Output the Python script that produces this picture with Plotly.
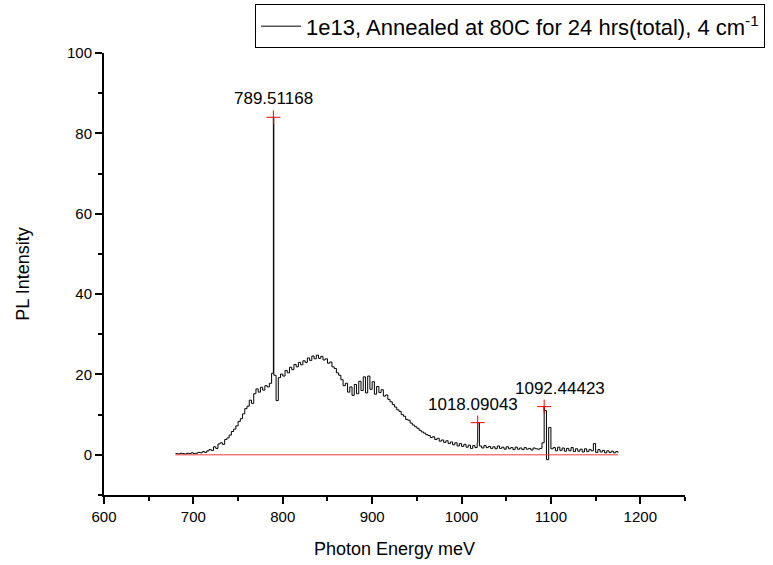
import numpy as np
import plotly.graph_objects as go

e_start, e_step = 680.0, 2.5
intensity = [
    0.3, 0.2, 0.4, 0.3, 0.2, 0.4, 0.3, 0.5, 0.3, 0.4,      # 680-702.5
    0.6, 0.5, 0.8, 0.6, 1.0, 1.3, 1.1, 2.0, 1.6, 2.7,      # 705-727.5
    3.0, 2.6, 3.8, 4.2, 4.9, 5.8, 6.4, 7.2, 8.3, 9.0,      # 730-752.5
    10.2, 11.5, 12.1, 13.6, 12.8, 15.2, 16.4, 15.6, 16.8, 16.1,  # 755-777.5
    17.2, 16.9, 17.8, 20.3, 19.8, 13.5, 19.2, 20.1, 19.6, 21.0,  # 780-802.5
    20.4, 21.8, 21.2, 22.5, 21.9, 23.0, 22.4, 23.4, 23.0, 24.1,  # 805-827.5
    23.5, 24.6, 23.9, 24.8, 24.0, 24.5, 23.6, 23.9, 22.8, 23.1,  # 830-852.5
    21.9, 21.5, 20.4, 19.8, 18.7, 17.2, 17.8, 15.6, 16.9, 14.8,  # 855-877.5
    17.5, 15.2, 18.3, 16.0, 19.4, 15.4, 19.6, 16.3, 18.2, 15.1,  # 880-902.5
    17.0, 15.5, 16.2, 14.6, 14.9, 13.8, 13.2, 12.5, 11.9, 11.2,  # 905-927.5
    10.8, 10.0, 9.6, 8.8, 8.6, 7.9, 7.4, 7.0, 6.6, 6.1,          # 930-952.5
    5.7, 5.4, 5.0, 4.8, 4.3, 4.5, 3.8, 4.1, 3.4, 3.7,            # 955-977.5
    3.1, 3.5, 2.8, 3.2, 2.5, 3.0, 2.2, 2.8, 2.1, 2.6,            # 980-1002.5
    1.9, 2.4, 1.6, 2.3, 1.8, 3.0, 2.2, 1.7, 2.3, 1.8,            # 1005-1027.5
    2.1, 1.6, 2.0, 1.5, 2.2, 1.6, 1.9, 1.4, 2.0, 1.5,            # 1030-1052.5
    1.8, 1.3, 1.9, 1.4, 1.7, 1.3, 1.8, 1.4, 1.6, 1.2,            # 1055-1077.5
    1.7, 1.5, 1.4, 1.6, 3.0, 11.0, -1.2, 6.8, 1.5, 1.8,          # 1080-1102.5
    1.0, 1.9, 1.1, 1.7, 0.9, 1.6, 1.0, 1.8, 0.8, 1.5,            # 1105-1127.5
    0.9, 1.4, 0.7, 1.5, 0.8, 1.3, 1.0, 2.8, 0.6, 1.3,            # 1130-1152.5
    0.7, 1.1, 0.5, 1.0, 0.6, 0.9, 0.5, 0.8, 0.5,                 # 1155-1175
]

# Labelled peaks
peak_energy = [789.51168, 1018.09043, 1092.44423]
peak_height = [84.0, 8.0, 12.0]
peak_labels = ["789.51168", "1018.09043", "1092.44423"]
label_xshift = [0, -5, 16]

legend_name = "1e13, Annealed at 80C for 24 hrs(total), 4 cm<sup>-1</sup>"

energy = e_start + e_step * np.arange(len(intensity))
x_all = np.concatenate([energy, peak_energy])
y_all = np.concatenate([np.array(intensity), peak_height])
order = np.argsort(x_all)
x_all, y_all = x_all[order], y_all[order]

FONT = "Liberation Sans, Arial, sans-serif"

fig = go.Figure()
fig.add_trace(go.Scatter(
    x=x_all, y=y_all, mode="lines", line=dict(color="black", width=1, shape="hv"),
    name=legend_name, showlegend=True))
# baseline
fig.add_trace(go.Scatter(
    x=[energy[0], energy[-1]], y=[0, 0], mode="lines",
    line=dict(color="#f03c3c", width=1), showlegend=False, hoverinfo="skip"))
# peak markers
fig.add_trace(go.Scatter(
    x=peak_energy, y=peak_height, mode="markers",
    marker=dict(symbol="cross-thin", size=10, line=dict(color="#ff0000", width=1)),
    showlegend=False))

for xe, yh, lab, xs in zip(peak_energy, peak_height, peak_labels, label_xshift):
    fig.add_annotation(x=xe, y=yh, text=lab, showarrow=False, xanchor="center",
                       yanchor="bottom", yshift=7, xshift=xs,
                       font=dict(family=FONT, size=17, color="black"))

axis_common = dict(
    showline=True, linecolor="black", linewidth=2, mirror=False,
    ticks="outside", ticklen=7, tickwidth=2, tickcolor="black",
    showgrid=False, zeroline=False,
    tickfont=dict(family=FONT, size=15, color="black"),
)

fig.update_layout(
    width=773, height=565,
    paper_bgcolor="white", plot_bgcolor="white",
    margin=dict(l=104, r=88, t=53, b=70, autoexpand=False),
    font=dict(family=FONT, color="black"),
    xaxis=dict(range=[600, 1250], dtick=100, tick0=600,
               minor=dict(ticks="outside", ticklen=4, tickwidth=2, dtick=50, tickcolor="black"),
               title=dict(text="Photon Energy meV", font=dict(family=FONT, size=18), standoff=18),
               **axis_common),
    yaxis=dict(range=[-10, 100], dtick=20, tick0=0,
               minor=dict(ticks="outside", ticklen=4, tickwidth=2, dtick=10, tickcolor="black"),
               title=dict(text="PL Intensity", font=dict(family=FONT, size=18), standoff=33),
               **axis_common),
    legend=dict(x=0.26, y=1.11, xanchor="left", yanchor="top",
                bordercolor="black", borderwidth=1, bgcolor="white",
                font=dict(family=FONT, size=22, color="black"),
                itemwidth=40),
)

fig.write_html("out.html")
